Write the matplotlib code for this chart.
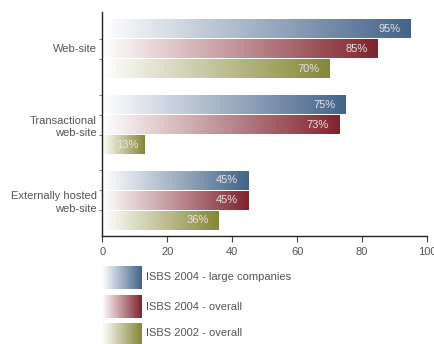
import numpy as np
import matplotlib.pyplot as plt
from matplotlib.colors import LinearSegmentedColormap

categories = ['Web-site', 'Transactional\nweb-site', 'Externally hosted\nweb-site']
series = ['ISBS 2004 - large companies', 'ISBS 2004 - overall', 'ISBS 2002 - overall']
large_2004 = [95, 75, 45]
overall_2004 = [85, 73, 45]
overall_2002 = [70, 13, 36]
xticks = [0, 20, 40, 60, 80, 100]

colors = ['#436389', '#80232d', '#868637']
txt = '#555555'

plt.rcParams['font.family'] = ['Liberation Sans', 'DejaVu Sans']

fig = plt.figure(figsize=(4.34, 3.44), dpi=100)
ax = fig.add_axes([102.3 / 434, 1 - 236 / 344, 324.7 / 434, 224 / 344])

grad = np.linspace(0, 1, 256).reshape(1, -1)
cmaps = [LinearSegmentedColormap.from_list('g%d' % i, ['#ffffff', c]) for i, c in enumerate(colors)]

pitch = 3.8
h = 0.95
edges = []
for j, vals in enumerate([large_2004, overall_2004, overall_2002]):
    for i, v in enumerate(vals):
        yc = 0.825 + pitch * i + j
        ax.imshow(grad, cmap=cmaps[j], aspect='auto', interpolation='bilinear',
                  extent=[0, v, yc + h / 2, yc - h / 2], zorder=2)
        off = -4.5 if v < 20 else -7.5
        ax.annotate('%d%%' % v, (v, yc), xytext=(off, 0), textcoords='offset points',
                    ha='right', va='center', fontsize=8, color='#e4e4e4', zorder=3)
        edges.append(yc - 0.5)

ax.set_xlim(0, 100)
ax.set_ylim(11.2, 0)
ax.set_xticks(xticks)
ax.set_xticklabels([str(t) for t in xticks])
ax.set_yticks([0.825 + pitch * i + 1 for i in range(3)])
ax.set_yticklabels(categories, ha='right', linespacing=1.3)
ax.set_yticks([e for e in edges if e > 0.5], minor=True)

for s in ['top', 'right']:
    ax.spines[s].set_visible(False)
for s in ['left', 'bottom']:
    ax.spines[s].set_color('#222222')
    ax.spines[s].set_linewidth(1.0)
ax.tick_params(axis='x', length=4, width=0.8, color='#444444', labelsize=8,
               labelcolor=txt, pad=4)
ax.tick_params(axis='y', which='major', length=0, labelsize=8, labelcolor=txt, pad=4)
ax.tick_params(axis='y', which='minor', length=2, width=0.6, color='#666666', direction='out')

# legend swatches with the same gradients
swatches = [(266, 289), (295, 318), (323, 344)]
for (top, bot), cm, name in zip(swatches, cmaps, series):
    sax = fig.add_axes([102 / 434, 1 - bot / 344, 40 / 434, (bot - top) / 344])
    sax.imshow(grad, cmap=cm, aspect='auto', interpolation='bilinear')
    sax.set_axis_off()
    fig.text(146 / 434, 1 - (top + bot) / 2 / 344, name, ha='left', va='center',
             fontsize=8, color=txt)

fig.savefig('out.png', dpi=100)
